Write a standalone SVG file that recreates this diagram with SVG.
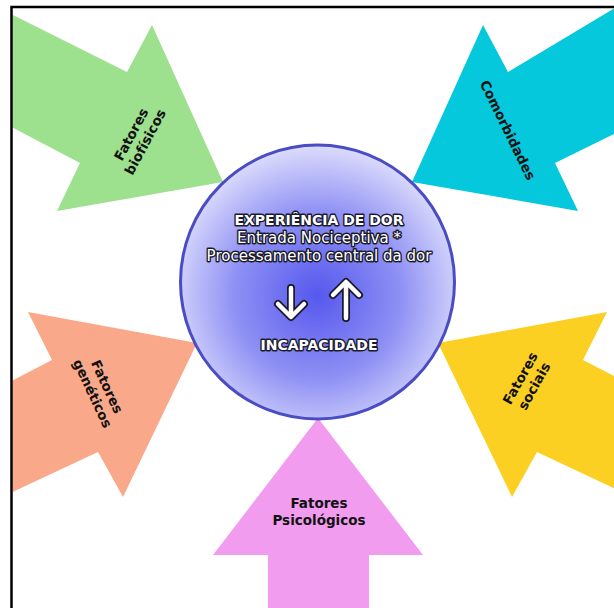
<svg xmlns="http://www.w3.org/2000/svg" width="614" height="608" viewBox="0 0 614 608">
<defs>
<radialGradient id="g" cx="0.5" cy="0.55" r="0.55">
<stop offset="0" stop-color="#5658ee"/>
<stop offset="0.55" stop-color="#8e90f4"/>
<stop offset="1" stop-color="#dcdcfc"/>
</radialGradient>
<clipPath id="frame"><rect x="12.5" y="8" width="602" height="600"/></clipPath>
<style>
.lbl{font-family:"DejaVu Sans",Verdana,sans-serif;font-weight:bold;font-size:13.5px;fill:#111;text-anchor:middle}
.ct{font-family:"DejaVu Sans",Verdana,sans-serif;fill:#fff;stroke:#1a1a2a;stroke-width:2.8px;paint-order:stroke;stroke-linejoin:round;text-anchor:middle}
.ar{fill:none;stroke-linecap:round;stroke-linejoin:round}
</style>
</defs>
<rect width="614" height="608" fill="#fff"/>
<g clip-path="url(#frame)">
<g id="biofisicos">
<polygon points="0,8.5 127,72 152,25 223,182 57,211 80,163 0,121" fill="#9de08e"/>
<text class="lbl" transform="translate(138,138) rotate(-62)"><tspan x="0" y="-3">Fatores</tspan><tspan x="0" y="13">biofísicos</tspan></text>
</g>
<g id="comorbidades">
<polygon points="614,8.5 508,72 483,25 412,182 578,211 555,163 614,134" fill="#05c8dc"/>
<text class="lbl" transform="translate(508,130) rotate(64)" y="5">Comorbidades</text>
</g>
<g id="geneticos">
<polygon points="0,387 52,360 28,312 197,343 123,497 98,452 0,498" fill="#f9a98a"/>
<text class="lbl" transform="translate(100,390) rotate(65)"><tspan x="0" y="-3">Fatores</tspan><tspan x="0" y="13">genéticos</tspan></text>
</g>
<g id="sociais">
<polygon points="635,387 583,360 607,312 438,343 512,497 537,452 635,498" fill="#fcd023"/>
<text class="lbl" transform="translate(527,382) rotate(-61)"><tspan x="0" y="-3">Fatores</tspan><tspan x="0" y="13">sociais</tspan></text>
</g>
<g id="psicologicos">
<polygon points="318,418 423,555 369,555 369,608 268,608 268,555 213,555" fill="#f29cf0"/>
<text class="lbl" x="319" y="508">Fatores</text>
<text class="lbl" x="319" y="525">Psicológicos</text>
</g>
</g>
<path d="M11.5,608 V7 H614" fill="none" stroke="#000" stroke-width="2.5"/>
<g id="experiencia">
<circle cx="317.5" cy="282" r="137" fill="url(#g)" stroke="#4a4cc4" stroke-width="3"/>
<text class="ct" x="319" y="225" font-size="14" font-weight="bold">EXPERIÊNCIA DE DOR</text>
<text class="ct" x="319" y="243" font-size="15">Entrada Nociceptiva *</text>
<text class="ct" x="319" y="261" font-size="15">Processamento central da dor</text>
<text class="ct" x="319" y="350" font-size="14" font-weight="bold">INCAPACIDADE</text>
<g id="setas">
<path class="ar" d="M291,288 V316 M278,304 L291,317 L304,304" stroke="#1a1a2a" stroke-width="8"/>
<path class="ar" d="M291,288 V316 M278,304 L291,317 L304,304" stroke="#fff" stroke-width="4.5"/>
<path class="ar" d="M346,318 V283 M333,295 L346,282 L359,295" stroke="#1a1a2a" stroke-width="8"/>
<path class="ar" d="M346,318 V283 M333,295 L346,282 L359,295" stroke="#fff" stroke-width="4.5"/>
</g>
</g>
</svg>
